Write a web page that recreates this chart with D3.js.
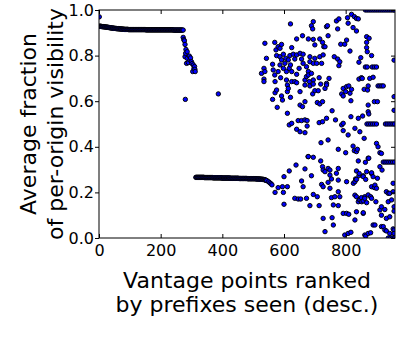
<!DOCTYPE html>
<html>
<head>
<meta charset="utf-8">
<script src="https://cdn.jsdelivr.net/npm/d3@7"></script>
<style>
  body { margin: 0; background: #fff; }
  text { font-family: "DejaVu Sans", sans-serif; fill: #000; }
</style>
</head>
<body>
<div id="chart"></div>
<script>
// ranks -> average fraction
const xTicks = [0, 200, 400, 600, 800];
const yTicks = [0, 0.2, 0.4, 0.6, 0.8, 1.0];
const xLabel = ["Vantage points ranked", "by prefixes seen (desc.)"];
const yLabel = ["Average fraction", "of per-origin visibility"];

// top band, every second rank from 2 to 270
const band1Ranks = d3.range(2, 272, 2);
const band1 = [
  0.929, 0.929, 0.928, 0.928, 0.927, 0.927, 0.927, 0.926, 0.926, 0.926,
  0.925, 0.925, 0.925, 0.924, 0.924, 0.923, 0.923, 0.922, 0.922, 0.921,
  0.921, 0.921, 0.920, 0.920, 0.920, 0.919, 0.919, 0.919, 0.918, 0.918,
  0.918, 0.918, 0.917, 0.917, 0.917, 0.917, 0.916, 0.916, 0.916, 0.916,
  0.915, 0.915, 0.915, 0.915, 0.915, 0.915, 0.915, 0.914, 0.914, 0.914,
  0.914, 0.914, 0.914, 0.914, 0.914, 0.914, 0.914, 0.914, 0.914, 0.914,
  0.914, 0.914, 0.914, 0.914, 0.914, 0.914, 0.914, 0.914, 0.914, 0.914,
  0.914, 0.914, 0.914, 0.914, 0.914,
  0.913, 0.913, 0.913, 0.913, 0.913, 0.913, 0.913, 0.913, 0.913, 0.913,
  0.913, 0.913, 0.913, 0.913, 0.913, 0.913, 0.913, 0.913, 0.913, 0.913,
  0.913, 0.913, 0.913, 0.913, 0.913, 0.913, 0.913, 0.913, 0.913, 0.913,
  0.913, 0.913, 0.913, 0.913, 0.913, 0.913, 0.913, 0.913, 0.913, 0.913,
  0.913, 0.913, 0.913, 0.913, 0.913,
  0.912, 0.912, 0.912, 0.912, 0.912, 0.912, 0.912, 0.912, 0.912, 0.912,
  0.912, 0.912, 0.912, 0.912, 0.912
];

// lower band, every second rank from 314 to 544
const band2Ranks = d3.range(314, 546, 2);
const band2 = [
  0.266, 0.266, 0.266, 0.266, 0.266, 0.266, 0.266, 0.266, 0.266, 0.266, 0.266, 0.266, 0.266, 0.266,
  0.265, 0.265, 0.265, 0.265, 0.265, 0.265, 0.265, 0.265, 0.265, 0.265, 0.265, 0.265, 0.265, 0.265,
  0.264, 0.264, 0.264, 0.264, 0.264, 0.264, 0.264, 0.264, 0.264, 0.264, 0.264, 0.264, 0.264, 0.264,
  0.263, 0.263, 0.263, 0.263, 0.263, 0.263, 0.263, 0.263, 0.263, 0.263, 0.263, 0.263, 0.263, 0.263,
  0.262, 0.262, 0.262, 0.262, 0.262, 0.262, 0.262, 0.262, 0.262, 0.262, 0.262, 0.262, 0.262, 0.262,
  0.261, 0.261, 0.261, 0.261, 0.261, 0.261, 0.261, 0.261, 0.261, 0.261, 0.261, 0.261, 0.261, 0.261,
  0.260, 0.260, 0.260, 0.260, 0.260, 0.260, 0.260, 0.260, 0.260, 0.260, 0.260, 0.260, 0.260, 0.260,
  0.259, 0.259, 0.259, 0.259, 0.259, 0.259, 0.258, 0.258, 0.258, 0.258,
  0.257, 0.257, 0.257, 0.256, 0.255, 0.254, 0.253, 0.252
];

const dropPts = [
  [1, 0.970], [273, 0.912], [273, 0.880], [275, 0.870], [277, 0.865], [279, 0.849], [282, 0.827],
  [281, 0.810], [286, 0.817], [279, 0.795], [286, 0.788], [293, 0.798], [295, 0.781], [297, 0.790],
  [290, 0.769], [284, 0.766], [300, 0.773], [302, 0.765], [306, 0.759], [308, 0.744], [310, 0.752],
  [304, 0.730], [311, 0.740], [312, 0.730], [280, 0.608], [387, 0.632]
];

const upperPts = [
  [621, 0.939], [695, 0.949], [689, 0.931], [693, 0.917], [738, 0.927], [660, 0.887], [641, 0.873],
  [679, 0.873], [695, 0.871], [700, 0.847], [716, 0.873], [725, 0.858], [729, 0.839], [743, 0.887],
  [538, 0.854], [570, 0.858], [581, 0.839], [592, 0.849], [587, 0.832], [574, 0.825], [625, 0.835],
  [543, 0.788], [563, 0.762], [535, 0.744], [538, 0.730], [565, 0.737], [570, 0.715], [576, 0.800],
  [587, 0.795], [598, 0.806], [606, 0.788], [592, 0.781], [603, 0.766], [614, 0.781], [619, 0.800],
  [630, 0.806], [641, 0.803], [635, 0.785], [621, 0.759], [617, 0.744], [608, 0.730], [625, 0.730],
  [598, 0.744], [587, 0.759], [581, 0.730], [589, 0.703], [652, 0.810], [662, 0.806], [657, 0.785],
  [662, 0.766], [649, 0.744], [641, 0.718], [684, 0.795], [700, 0.788], [684, 0.773], [695, 0.766],
  [706, 0.766], [722, 0.766], [716, 0.795], [727, 0.803], [673, 0.751], [679, 0.730], [689, 0.722],
  [673, 0.708], [527, 0.722], [535, 0.697], [608, 0.693], [625, 0.686], [668, 0.693], [679, 0.715],
  [695, 0.693], [714, 0.703],
  [778, 0.961], [770, 0.952], [774, 0.917], [806, 0.966], [819, 0.981], [828, 0.971], [835, 0.963],
  [841, 0.961], [808, 0.942], [824, 0.923], [835, 0.908], [741, 0.931], [784, 0.850], [797, 0.850],
  [803, 0.868], [733, 0.839], [814, 0.820], [868, 0.858], [876, 0.876], [868, 0.835], [763, 0.795],
  [774, 0.785], [781, 0.773], [778, 0.756], [849, 0.791], [843, 0.771], [884, 0.800], [851, 0.703],
  [843, 0.697], [746, 0.700], [738, 0.678], [868, 0.883], [870, 0.817], [854, 0.700], [878, 0.700],
  [889, 0.705], [855, 0.535],
  [535, 0.686], [571, 0.686], [576, 0.649], [571, 0.637], [563, 0.608], [592, 0.623], [595, 0.605],
  [578, 0.573], [611, 0.671], [614, 0.656], [611, 0.642], [621, 0.617], [611, 0.547], [635, 0.686],
  [641, 0.681], [652, 0.642], [668, 0.671], [682, 0.686], [684, 0.667], [695, 0.675], [700, 0.646],
  [693, 0.632], [711, 0.646], [719, 0.675], [738, 0.671], [652, 0.583], [660, 0.576], [668, 0.598],
  [708, 0.594], [716, 0.588], [725, 0.598], [625, 0.503], [617, 0.496], [646, 0.515], [657, 0.515],
  [668, 0.518], [675, 0.515], [641, 0.477], [652, 0.466], [668, 0.462], [675, 0.491], [714, 0.506],
  [725, 0.510], [738, 0.525], [720, 0.418], [743, 0.430], [679, 0.357], [695, 0.354],
  [733, 0.656], [792, 0.656], [803, 0.664], [810, 0.667], [819, 0.652], [800, 0.642], [787, 0.632],
  [792, 0.623], [814, 0.635], [860, 0.652], [871, 0.649], [873, 0.667], [817, 0.602], [873, 0.583],
  [873, 0.554], [875, 0.544], [893, 0.598], [903, 0.598], [756, 0.558], [767, 0.518], [787, 0.496],
  [792, 0.503], [817, 0.532], [841, 0.525], [792, 0.471], [808, 0.452], [830, 0.481], [846, 0.466],
  [860, 0.437], [776, 0.389], [800, 0.374], [824, 0.403], [828, 0.383], [835, 0.379], [838, 0.389],
  [900, 0.415], [905, 0.400], [911, 0.374], [916, 0.371], [875, 0.350],
  [957, 0.620], [957, 0.780], [957, 0.560]
];

const lowerPts = [
  [550, 0.247], [554, 0.242], [558, 0.238], [561, 0.233],
  [571, 0.200], [581, 0.221], [595, 0.225], [598, 0.200], [611, 0.225], [600, 0.148], [600, 0.269],
  [617, 0.294], [639, 0.320], [635, 0.174], [646, 0.171], [654, 0.171], [657, 0.250], [662, 0.225],
  [668, 0.303], [673, 0.174], [684, 0.142], [689, 0.273], [678, 0.357], [695, 0.191], [708, 0.181],
  [714, 0.142], [719, 0.338], [725, 0.313], [727, 0.298], [733, 0.291], [722, 0.235], [727, 0.225],
  [727, 0.086], [733, 0.028], [743, 0.305],
  [841, 0.338], [864, 0.332], [873, 0.350], [911, 0.313], [918, 0.298], [835, 0.294], [843, 0.273],
  [776, 0.305], [770, 0.284], [749, 0.298], [749, 0.276], [868, 0.291], [857, 0.273], [832, 0.259],
  [825, 0.240], [754, 0.259], [743, 0.244], [749, 0.218], [776, 0.254], [803, 0.247], [884, 0.283],
  [903, 0.262], [893, 0.221], [900, 0.218], [754, 0.177], [765, 0.181], [776, 0.203], [781, 0.181],
  [835, 0.181], [846, 0.167], [851, 0.177], [841, 0.159], [862, 0.181], [873, 0.189], [884, 0.174],
  [932, 0.203], [938, 0.196], [938, 0.159], [949, 0.167], [760, 0.145], [776, 0.142], [803, 0.108],
  [810, 0.104], [835, 0.115], [857, 0.108], [911, 0.123], [916, 0.100], [932, 0.086], [943, 0.093],
  [756, 0.089], [760, 0.057], [808, 0.020], [817, 0.025], [797, 0.013], [862, 0.013], [873, 0.020],
  [895, 0.057], [922, 0.050], [932, 0.031], [943, 0.020], [954, 0.040],
  [792, 0.108], [865, 0.008], [881, 0.023], [889, 0.057], [916, 0.137], [927, 0.125], [943, 0.196],
  [954, 0.203], [954, 0.240], [916, 0.050], [927, 0.035], [884, 0.286], [889, 0.269], [884, 0.225],
  [895, 0.232], [881, 0.181], [898, 0.159], [830, 0.247], [835, 0.257], [844, 0.283], [857, 0.269],
  [865, 0.257], [868, 0.155], [857, 0.111], [830, 0.079], [830, 0.188], [844, 0.169], [852, 0.159],
  [857, 0.163], [862, 0.174], [957, 0.137], [957, 0.118], [957, 0.035], [957, 0.020]
];

// flat runs along the right edge
const rowPts = [
  [864, 1.0], [870, 1.0], [876, 1.0], [882, 1.0], [888, 1.0], [894, 1.0], [900, 1.0], [906, 1.0],
  [912, 1.0], [918, 1.0], [924, 1.0], [930, 1.0], [936, 1.0], [942, 1.0], [948, 1.0], [954, 1.0], [958, 1.0],
  [864, 0.75], [870, 0.75], [886, 0.75], [893, 0.75], [900, 0.75],
  [905, 0.667], [911, 0.667], [917, 0.667], [922, 0.667],
  [869, 0.5], [875, 0.5], [881, 0.5], [887, 0.5], [893, 0.5], [900, 0.5],
  [929, 0.5], [935, 0.5], [941, 0.5], [947, 0.5], [953, 0.5], [958, 0.5],
  [922, 0.333], [928, 0.333], [934, 0.333], [940, 0.333], [946, 0.333], [952, 0.333], [958, 0.333],
  [938, 0.0], [946, 0.0], [952, 0.0], [958, 0.0]
];

const width = 399;
const height = 342;
const margin = { top: 10, right: 4, bottom: 104, left: 99 };

const svg = d3.select("#chart")
  .append("svg")
  .attr("width", width)
  .attr("height", height);

const x = d3.scaleLinear()
  .domain([0, 960])
  .range([margin.left, width - margin.right]);

const y = d3.scaleLinear()
  .domain([0, 1])
  .range([height - margin.bottom, margin.top]);

const points = []
  .concat(band1Ranks.map((r, i) => [r, band1[i]]))
  .concat(band2Ranks.map((r, i) => [r, band2[i]]))
  .concat(dropPts, upperPts, lowerPts, rowPts)
  .sort((a, b) => a[0] - b[0]);

svg.append("clipPath")
  .attr("id", "plot-clip")
  .append("rect")
  .attr("x", x(0))
  .attr("y", y(1))
  .attr("width", x(960) - x(0))
  .attr("height", y(0) - y(1));

svg.append("g")
  .attr("clip-path", "url(#plot-clip)")
  .selectAll("circle")
  .data(points)
  .join("circle")
  .attr("cx", d => x(d[0]))
  .attr("cy", d => y(d[1]))
  .attr("r", 2.2)
  .attr("fill", "#0000ff")
  .attr("stroke", "#000")
  .attr("stroke-width", 0.95);

// left ticks stick out, the other three point into the plot
const bottom = svg.append("g")
  .attr("transform", `translate(0,${y(0)})`)
  .call(d3.axisBottom(x).tickValues(xTicks).tickSize(-4).tickPadding(7).tickFormat(d3.format("d")));

const left = svg.append("g")
  .attr("transform", `translate(${x(0)},0)`)
  .call(d3.axisLeft(y).tickValues(yTicks).tickSize(4).tickPadding(1).tickFormat(d3.format(".1f")));

svg.append("g")
  .attr("transform", `translate(0,${y(1)})`)
  .call(d3.axisTop(x).tickValues(xTicks).tickSize(-4).tickFormat(""));

svg.append("g")
  .attr("transform", `translate(${x(960)},0)`)
  .call(d3.axisRight(y).tickValues(yTicks).tickSize(-4).tickFormat(""));

svg.selectAll(".domain").remove();
svg.selectAll(".tick line").attr("stroke", "#000").attr("stroke-width", 1);
bottom.selectAll("text").attr("font-size", 16).attr("font-family", "DejaVu Sans");
left.selectAll("text").attr("font-size", 16).attr("font-family", "DejaVu Sans");

svg.append("rect")
  .attr("x", x(0))
  .attr("y", y(1))
  .attr("width", x(960) - x(0))
  .attr("height", y(0) - y(1))
  .attr("fill", "none")
  .attr("stroke", "#000")
  .attr("stroke-width", 1);

svg.selectAll(".x-label")
  .data(xLabel)
  .join("text")
  .attr("class", "x-label")
  .attr("x", (x(0) + x(960)) / 2)
  .attr("y", (d, i) => 288 + i * 24)
  .attr("text-anchor", "middle")
  .attr("font-size", 22)
  .text(d => d);

svg.selectAll(".y-label")
  .data(yLabel)
  .join("text")
  .attr("class", "y-label")
  .attr("transform", (d, i) => `translate(${36 + i * 27},${(y(0) + y(1)) / 2}) rotate(-90)`)
  .attr("text-anchor", "middle")
  .attr("font-size", 22)
  .text(d => d);
</script>
</body>
</html>
